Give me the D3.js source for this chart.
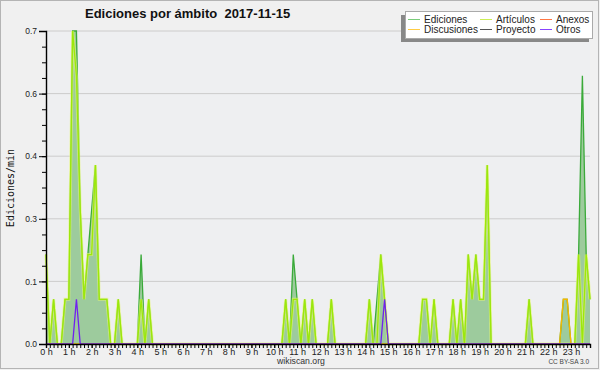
<!DOCTYPE html>
<html>
<head>
<meta charset="utf-8">
<script src="https://cdn.jsdelivr.net/npm/d3@7"></script>
<style>
  body { margin: 0; background: #f0f0f0; }
  svg text { font-family: "Liberation Sans", Arial, sans-serif; }
</style>
</head>
<body>
<div id="chart"></div>
<script>
// ediciones/min, one value per 10 minute slot (0 h ... 23:50), 24 values per line = 4 hours
let ediciones = [
  0.2,0,0.1,0,0,0.1, 0.1,0.7,0.7,0.3,0.1,0.2, 0.3,0.4,0.1,0.1,0.1,0, 0,0.1,0,0,0,0,
  0,0.2,0,0.1,0,0, 0,0,0,0,0,0, 0,0,0,0,0,0, 0,0,0,0,0,0,
  0,0,0,0,0,0, 0,0,0,0,0,0, 0,0,0,0.1,0,0.2, 0.1,0,0.1,0,0.1,0,
  0,0,0,0.1,0,0, 0,0,0,0,0,0, 0,0.1,0,0.1,0.2,0.1, 0,0,0,0,0,0,
  0,0,0,0.1,0.1,0, 0.1,0,0,0,0,0.1, 0,0.1,0,0.2,0.1,0.2, 0.1,0.1,0.4,0,0,0,
  0,0,0,0,0,0, 0,0.1,0,0,0,0, 0,0,0,0,0.1,0.1, 0,0,0.2,0.6,0.2,0.1
];
let articulos = [
  0.2,0,0.1,0,0,0.1, 0.1,0.7,0.6,0.3,0.1,0.2, 0.2,0.4,0.1,0.1,0.1,0, 0,0.1,0,0,0,0,
  0,0.1,0,0.1,0,0, 0,0,0,0,0,0, 0,0,0,0,0,0, 0,0,0,0,0,0,
  0,0,0,0,0,0, 0,0,0,0,0,0, 0,0,0,0.1,0,0.1, 0.1,0,0.1,0,0.1,0,
  0,0,0,0.1,0,0, 0,0,0,0,0,0, 0,0.1,0,0,0.2,0.1, 0,0,0,0,0,0,
  0,0,0,0.1,0.1,0, 0.1,0,0,0,0,0.1, 0,0.1,0,0.2,0.1,0.2, 0.1,0.1,0.4,0,0,0,
  0,0,0,0,0,0, 0,0.1,0,0,0,0, 0,0,0,0,0,0, 0,0,0.2,0,0.2,0.1
];
let discusiones = [
  0,0,0,0,0,0, 0,0,0,0,0,0, 0,0,0,0,0,0, 0,0,0,0,0,0,
  0,0,0,0,0,0, 0,0,0,0,0,0, 0,0,0,0,0,0, 0,0,0,0,0,0,
  0,0,0,0,0,0, 0,0,0,0,0,0, 0,0,0,0,0,0, 0,0,0,0,0,0,
  0,0,0,0,0,0, 0,0,0,0,0,0, 0,0,0,0,0,0, 0,0,0,0,0,0,
  0,0,0,0,0,0, 0,0,0,0,0,0, 0,0,0,0,0,0, 0,0,0,0,0,0,
  0,0,0,0,0,0, 0,0,0,0,0,0, 0,0,0,0,0.1,0.1, 0,0,0,0,0,0
];
let otros = [
  0,0,0,0,0,0, 0,0,0.1,0,0,0, 0,0,0,0,0,0, 0,0,0,0,0,0,
  0,0,0,0,0,0, 0,0,0,0,0,0, 0,0,0,0,0,0, 0,0,0,0,0,0,
  0,0,0,0,0,0, 0,0,0,0,0,0, 0,0,0,0,0,0, 0,0,0,0,0,0,
  0,0,0,0,0,0, 0,0,0,0,0,0, 0,0,0,0,0,0.1, 0,0,0,0,0,0,
  0,0,0,0,0,0, 0,0,0,0,0,0, 0,0,0,0,0,0, 0,0,0,0,0,0,
  0,0,0,0,0,0, 0,0,0,0,0,0, 0,0,0,0,0,0, 0,0,0,0,0,0
];
let anexos = [];    // no edits that day
let proyecto = [];  // no edits that day

let hours = d3.range(0, 24);
let yTicks = [0, 0.14, 0.28, 0.42, 0.56, 0.7];
let legendItems = [
  {name: "Ediciones",   color: "#7acc7a", col: 0, row: 0},
  {name: "Artículos",   color: "#ccee55", col: 1, row: 0},
  {name: "Anexos",      color: "#ff7744", col: 2, row: 0},
  {name: "Discusiones", color: "#ffcc44", col: 0, row: 1},
  {name: "Proyecto",    color: "#555555", col: 1, row: 1},
  {name: "Otros",       color: "#8844ff", col: 2, row: 1}
];

var width = 600, height = 370;
var plot = {left: 46, right: 590, top: 31, bottom: 344};

var svg = d3.select("#chart").append("svg")
  .attr("width", width)
  .attr("height", height);

svg.append("rect")
  .attr("x", 0.5).attr("y", 0.5)
  .attr("width", width - 2).attr("height", height - 2)
  .attr("fill", "#f0f0f0")
  .attr("stroke", "#b4b4b4");

// slot index -> hours
var x = d3.scaleLinear().domain([0, 143 / 6]).range([plot.left, plot.right]);
var y = d3.scaleLinear().domain([0, 0.7]).range([plot.bottom, plot.top]);

svg.append("rect")
  .attr("x", plot.left).attr("y", plot.top)
  .attr("width", plot.right - plot.left).attr("height", plot.bottom - plot.top)
  .attr("fill", "#eeeff1");

// grid
svg.append("g").selectAll("line")
  .data(yTicks.slice(1))
  .enter().append("line")
    .attr("x1", plot.left).attr("x2", plot.right)
    .attr("y1", d => y(d)).attr("y2", d => y(d))
    .attr("stroke", "#cccccc");

var line = (vals) => d3.line()
  .x((d, i) => x(i / 6))
  .y(d => y(d))(vals);

var area = d3.area()
  .x((d, i) => x(i / 6))
  .y0(y(0))
  .y1(d => y(d));

svg.append("path")
  .attr("d", area(ediciones))
  .attr("fill", "#9dcb9d");

svg.append("path")
  .attr("d", line(ediciones))
  .attr("fill", "none")
  .attr("stroke", "#3aaa3a")
  .attr("stroke-width", 1.3);

// articulos: soft halo + bright core
svg.append("path")
  .attr("d", line(articulos))
  .attr("fill", "none")
  .attr("stroke", "#e6f86e")
  .attr("stroke-width", 3)
  .attr("opacity", 0.6);
svg.append("path")
  .attr("d", line(articulos))
  .attr("fill", "none")
  .attr("stroke", "#9ce80a")
  .attr("stroke-width", 1.3);

svg.append("path")
  .attr("d", line(discusiones))
  .attr("fill", "none")
  .attr("stroke", "#f5b800")
  .attr("stroke-width", 1.4);

svg.append("path")
  .attr("d", line(otros))
  .attr("fill", "none")
  .attr("stroke", "#7020f0")
  .attr("stroke-width", 1.3);

// axes
var yAxis = svg.append("g")
  .attr("transform", "translate(" + plot.left + ",0)")
  .call(d3.axisLeft(y).tickValues(yTicks).tickFormat(d3.format(".1f")).tickSize(7).tickPadding(2));
yAxis.selectAll("text").attr("font-size", "8.5px").attr("fill", "#222").style("font-family", "'Liberation Sans', Arial");

svg.append("g")
  .attr("transform", "translate(" + plot.left + ",0)")
  .call(d3.axisLeft(y).tickValues(d3.range(0, 0.7001, 0.035)).tickFormat("").tickSize(4))
  .select(".domain").remove();

var xAxis = svg.append("g")
  .attr("transform", "translate(0," + plot.bottom + ")")
  .call(d3.axisBottom(x).tickValues(hours).tickFormat(d => d + " h").tickSize(4).tickPadding(1));
xAxis.selectAll("text").attr("font-size", "9px").attr("fill", "#222").style("font-family", "'Liberation Sans', Arial");

svg.append("g")
  .attr("transform", "translate(0," + plot.bottom + ")")
  .call(d3.axisBottom(x).tickValues(d3.range(0, 144).map(i => i / 6)).tickFormat("").tickSize(4))
  .select(".domain").remove();

svg.selectAll(".domain").attr("stroke-width", 1.4);

// texts
svg.append("text")
  .attr("x", 85).attr("y", 18)
  .attr("font-size", "13px")
  .attr("font-weight", "bold")
  .attr("fill", "#111")
  .style("white-space", "pre")
  .text("Ediciones por ámbito  2017-11-15");

svg.append("text")
  .attr("transform", "translate(14,188) rotate(-90)")
  .attr("text-anchor", "middle")
  .attr("font-size", "10px")
  .style("font-family", "'DejaVu Sans Mono', monospace")
  .attr("fill", "#111")
  .text("Ediciones/min");

svg.append("text")
  .attr("x", 301).attr("y", 364)
  .attr("text-anchor", "middle")
  .attr("font-size", "8.7px")
  .attr("fill", "#333")
  .text("wikiscan.org");

svg.append("text")
  .attr("x", 589).attr("y", 364)
  .attr("text-anchor", "end")
  .attr("font-size", "6.5px")
  .attr("fill", "#444")
  .text("CC BY-SA 3.0");

// legend
var lg = svg.append("g");
lg.append("rect")
  .attr("x", 401).attr("y", 15)
  .attr("width", 188).attr("height", 27)
  .attr("fill", "#888");
lg.append("rect")
  .attr("x", 405.5).attr("y", 11.5)
  .attr("width", 187).attr("height", 27)
  .attr("fill", "#ffffff")
  .attr("stroke", "#aaaaaa");

var colX = [408, 480, 540];
var rowY = [19.5, 29.5];
var items = lg.selectAll(".item")
  .data(legendItems)
  .enter().append("g");
items.append("line")
  .attr("x1", d => colX[d.col]).attr("x2", d => colX[d.col] + 12)
  .attr("y1", d => rowY[d.row]).attr("y2", d => rowY[d.row])
  .attr("stroke", d => d.color);
items.append("text")
  .attr("x", d => colX[d.col] + 16)
  .attr("y", d => rowY[d.row] + 3.5)
  .attr("font-size", "10px")
  .attr("fill", "#222")
  .text(d => d.name);
</script>
</body>
</html>
